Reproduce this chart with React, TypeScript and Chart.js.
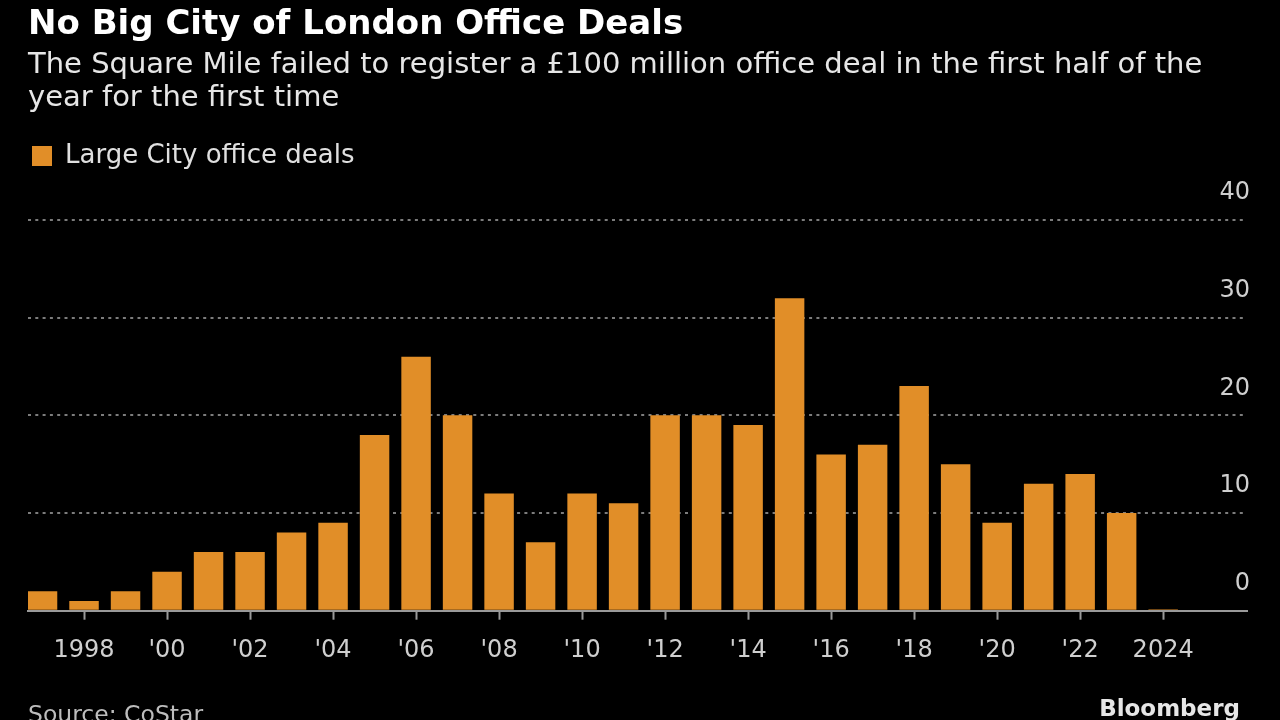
import React, { useEffect, useRef } from "react";
import { Chart, registerables } from "chart.js";

Chart.register(...registerables);

// ---- Data ----
const YEARS = [
  1997, 1998, 1999, 2000, 2001, 2002, 2003, 2004, 2005, 2006, 2007, 2008, 2009, 2010,
  2011, 2012, 2013, 2014, 2015, 2016, 2017, 2018, 2019, 2020, 2021, 2022, 2023, 2024,
];
const LARGE_DEALS = [
  2, 1, 2, 4, 6, 6, 8, 9, 18, 26, 20, 12, 7, 12,
  11, 20, 20, 19, 32, 16, 17, 23, 15, 9, 13, 14, 10, 0.15,
];
const X_TICK_YEARS = [1998, 2000, 2002, 2004, 2006, 2008, 2010, 2012, 2014, 2016, 2018, 2020, 2022, 2024];
const X_TICK_LABELS = ["1998", "'00", "'02", "'04", "'06", "'08", "'10", "'12", "'14", "'16", "'18", "'20", "'22", "2024"];
const Y_MIN = 0;
const Y_MAX = 40;
const Y_STEP = 10;

const TITLE = "No Big City of London Office Deals";
const SUBTITLE = [
  "The Square Mile failed to register a £100 million office deal in the first half of the",
  "year for the first time",
];
const SERIES_NAME = "Large City office deals";

const FONT = "'DejaVu Sans', sans-serif";
const BAR_COLOR = "#E18E28";

const legendSpacer = {
  id: "legendSpacer",
  afterInit(chart: any) {
    const legend = chart.legend;
    if (!legend) return;
    const orig = legend.fit;
    legend.fit = function () {
      orig.call(this);
      this.height = 81;
    };
  },
};

export default function App() {
  const ref = useRef<HTMLCanvasElement>(null);

  useEffect(() => {
    if (!ref.current) return;
    Chart.defaults.font.family = FONT;
    const chart = new Chart(ref.current, {
      type: "bar",
      data: {
        datasets: [
          {
            label: SERIES_NAME,
            data: YEARS.map((x, i) => ({ x, y: LARGE_DEALS[i] })),
            backgroundColor: BAR_COLOR,
            borderWidth: 0,
            categoryPercentage: 1,
            barPercentage: 0.71,
          },
        ],
      },
      plugins: [legendSpacer],
      options: {
        responsive: false,
        devicePixelRatio: 1,
        animation: false,
        events: [],
        layout: { padding: { left: 28, right: 27, top: 0, bottom: 37.5 } },
        scales: {
          x: {
            type: "linear",
            min: 1996.65,
            max: 2026.02,
            offset: false,
            afterBuildTicks: (s: any) => {
              s.ticks = X_TICK_YEARS.map((v) => ({ value: v }));
            },
            ticks: {
              autoSkip: false,
              maxRotation: 0,
              padding: 17,
              color: "#cfcfcf",
              font: { size: 24 },
              callback: (v: any) => {
                const i = X_TICK_YEARS.indexOf(Number(v));
                return i >= 0 ? X_TICK_LABELS[i] : "";
              },
            },
            grid: {
              display: true,
              offset: false,
              drawOnChartArea: false,
              drawTicks: true,
              tickLength: 9,
              tickColor: "#9a9a9a",
              tickWidth: 2,
            },
            border: { display: true, color: "#9a9a9a", width: 2 },
          },
          y: {
            position: "right",
            min: Y_MIN,
            max: Y_MAX,
            ticks: {
              stepSize: Y_STEP,
              mirror: true,
              padding: 3,
              labelOffset: -27,
              color: "#cfcfcf",
              font: { size: 24 },
            },
            grid: {
              drawTicks: false,
              lineWidth: 2,
              color: (c: any) => (c.tick && c.tick.value === 0 ? "rgba(0,0,0,0)" : "#7c7c7c"),
            },
            border: { display: false, dash: [3, 4.3] },
          },
        },
        plugins: {
          tooltip: { enabled: false },
          title: {
            display: true,
            text: TITLE,
            align: "start",
            color: "#ffffff",
            font: { size: 34, weight: "bold", lineHeight: 1.2 },
            padding: { top: 4.8, bottom: 0 },
          },
          subtitle: {
            display: true,
            text: SUBTITLE,
            align: "start",
            color: "#e6e6e6",
            font: { size: 29, lineHeight: 33 / 29 },
            padding: { top: 2.9, bottom: 24.5 },
          },
          legend: {
            display: true,
            position: "top",
            align: "start",
            labels: {
              boxWidth: 20,
              boxHeight: 20,
              padding: 4,
              color: "#e0e0e0",
              font: { size: 26 },
            },
          },
        },
      } as any,
    });
    return () => chart.destroy();
  }, []);

  return (
    <div
      style={{
        position: "absolute",
        left: 0,
        top: 0,
        width: 1280,
        height: 720,
        background: "#000",
        overflow: "hidden",
        fontFamily: FONT,
      }}
    >
      <canvas ref={ref} width={1280} height={720} style={{ display: "block", width: 1280, height: 720 }} />
      <div
        style={{
          position: "absolute",
          left: 28,
          top: 703,
          fontSize: 23.5,
          lineHeight: "23px",
          color: "#bdbdbd",
          whiteSpace: "nowrap",
        }}
      >
        Source: CoStar
      </div>
      <div
        style={{
          position: "absolute",
          right: 40,
          top: 696.5,
          fontSize: 23,
          lineHeight: "23px",
          fontWeight: "bold",
          color: "#e6e6e6",
          whiteSpace: "nowrap",
        }}
      >
        Bloomberg
      </div>
    </div>
  );
}
